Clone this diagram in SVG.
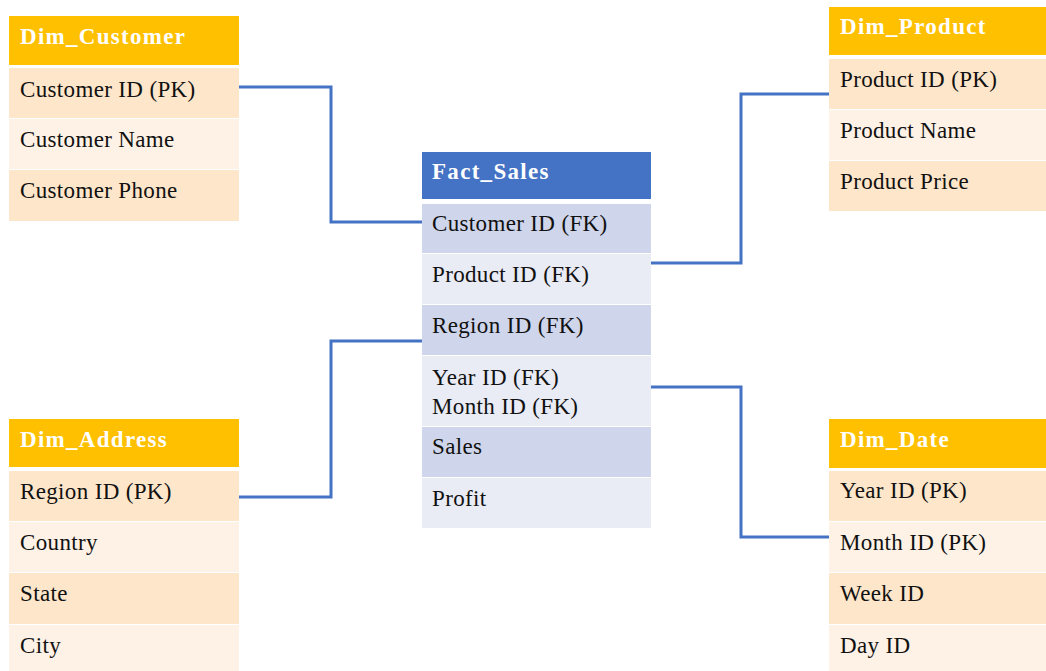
<svg xmlns="http://www.w3.org/2000/svg" width="1046" height="671" viewBox="0 0 1046 671">
  <style>
    text { font-family: "Liberation Serif", "Times New Roman", serif; font-size: 23px; letter-spacing: 0.35px; fill: #111111; }
    .hd { font-size: 23px; font-weight: bold; fill: #ffffff; letter-spacing: 1.3px; }
    .dimh { fill: #FFC000; }
    .dim1 { fill: #FEE6CA; }
    .dim2 { fill: #FEF2E6; }
    .facth { fill: #4472C4; }
    .fact1 { fill: #CFD5EA; }
    .fact2 { fill: #E9EBF5; }
    .link { fill: none; stroke: #4472C4; stroke-width: 3; }
  </style>
  <rect width="1046" height="671" fill="#ffffff"/>

  <!-- relationships -->
  <g id="connectors">
    <polyline class="link" points="239,87 331,87 331,222 422,222"/>
    <polyline class="link" points="651,263 741,263 741,94 829,94"/>
    <polyline class="link" points="239,497 331,497 331,341 422,341"/>
    <polyline class="link" points="651,387 741,387 741,537 829,537"/>
  </g>

  <g id="dim_customer">
    <rect class="dimh" x="9" y="16" width="230" height="49"/>
    <rect class="dim1" x="9" y="68" width="230" height="50"/>
    <rect class="dim2" x="9" y="119" width="230" height="50"/>
    <rect class="dim1" x="9" y="170" width="230" height="51"/>
    <text class="hd" x="20" y="44">Dim_Customer</text>
    <text x="20" y="97">Customer ID (PK)</text>
    <text x="20" y="147">Customer Name</text>
    <text x="20" y="198">Customer Phone</text>
  </g>

  <g id="dim_product">
    <rect class="dimh" x="829" y="7" width="217" height="48"/>
    <rect class="dim1" x="829" y="59" width="217" height="50"/>
    <rect class="dim2" x="829" y="110" width="217" height="50"/>
    <rect class="dim1" x="829" y="161" width="217" height="50"/>
    <text class="hd" x="840" y="34">Dim_Product</text>
    <text x="840" y="87">Product ID (PK)</text>
    <text x="840" y="138">Product Name</text>
    <text x="840" y="189">Product Price</text>
  </g>

  <g id="fact_sales">
    <rect class="facth" x="422" y="152" width="229" height="47"/>
    <rect class="fact1" x="422" y="204" width="229" height="49"/>
    <rect class="fact2" x="422" y="254" width="229" height="50"/>
    <rect class="fact1" x="422" y="305" width="229" height="50"/>
    <rect class="fact2" x="422" y="356" width="229" height="70"/>
    <rect class="fact1" x="422" y="427" width="229" height="50"/>
    <rect class="fact2" x="422" y="478" width="229" height="50"/>
    <text class="hd" x="432" y="179">Fact_Sales</text>
    <text x="432" y="231">Customer ID (FK)</text>
    <text x="432" y="282">Product ID (FK)</text>
    <text x="432" y="333">Region ID (FK)</text>
    <text x="432" y="385">Year ID (FK)</text>
    <text x="432" y="414">Month ID (FK)</text>
    <text x="432" y="454">Sales</text>
    <text x="432" y="506">Profit</text>
  </g>

  <g id="dim_address">
    <rect class="dimh" x="9" y="419" width="230" height="48"/>
    <rect class="dim1" x="9" y="471" width="230" height="50"/>
    <rect class="dim2" x="9" y="522" width="230" height="50"/>
    <rect class="dim1" x="9" y="573" width="230" height="51"/>
    <rect class="dim2" x="9" y="625" width="230" height="46"/>
    <text class="hd" x="20" y="447">Dim_Address</text>
    <text x="20" y="499">Region ID (PK)</text>
    <text x="20" y="550">Country</text>
    <text x="20" y="601">State</text>
    <text x="20" y="653">City</text>
  </g>

  <g id="dim_date">
    <rect class="dimh" x="829" y="419" width="217" height="49"/>
    <rect class="dim1" x="829" y="471" width="217" height="50"/>
    <rect class="dim2" x="829" y="522" width="217" height="50"/>
    <rect class="dim1" x="829" y="573" width="217" height="51"/>
    <rect class="dim2" x="829" y="625" width="217" height="46"/>
    <text class="hd" x="840" y="447">Dim_Date</text>
    <text x="840" y="498">Year ID (PK)</text>
    <text x="840" y="550">Month ID (PK)</text>
    <text x="840" y="601">Week ID</text>
    <text x="840" y="653">Day ID</text>
  </g>
</svg>
